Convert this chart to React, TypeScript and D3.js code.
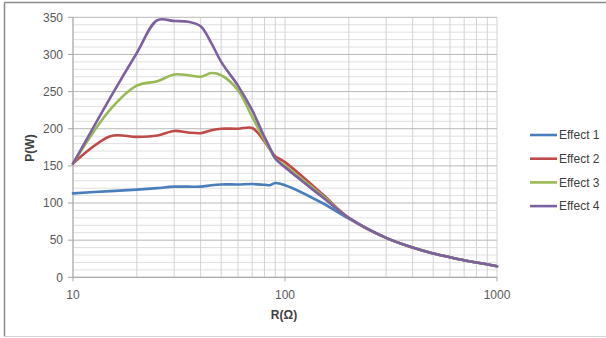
import React from "react";
import * as d3 from "d3";

const W = 606;
const H = 338;

const resistances = [10, 15, 20, 25, 30, 35, 40, 45, 50, 60, 70, 80, 85, 90, 100, 150, 200, 300, 400, 500, 600, 700, 800, 1000];
const effect1 = [113, 116, 118, 120, 122, 122, 122, 124, 125, 125, 125.5, 124.5, 124, 127, 124, 100, 79, 53, 40, 32, 27, 23, 20, 15];
const effect2 = [153, 190, 189, 191, 197, 195, 194, 198, 200, 200, 201, 183, 172, 163, 155, 112, 80, 53, 40, 32, 27, 23, 20, 15];
const effect3 = [153, 226, 258, 264, 273, 272, 270, 275, 272, 252, 216, 185, 172, 160, 150, 110, 80, 53, 40, 32, 27, 23, 20, 15];
const effect4 = [153, 242, 302, 346, 345, 344, 338, 315, 290, 258, 225, 189, 174, 160, 148, 108, 80, 53, 40, 32, 27, 23, 20, 15];

const seriesNames = ["Effect 1", "Effect 2", "Effect 3", "Effect 4"];
const seriesValues = [effect1, effect2, effect3, effect4];
const seriesColors = ["#4A7EBB", "#BE4B48", "#98B954", "#7D60A0"];

const yTicks = [0, 50, 100, 150, 200, 250, 300, 350];
const xTickLabels = [10, 100, 1000];

export default function App() {
  const x = d3.scaleLog().domain([10, 1000]).range([73, 497]);
  const y = d3.scaleLinear().domain([0, 350]).range([277.3, 17.3]);

  const minorX: number[] = [];
  for (let dec = 10; dec < 1000; dec *= 10) {
    for (let m = 1; m <= 9; m++) minorX.push(dec * m);
  }
  minorX.push(1000);
  const minorY = d3.range(0, 351, 10);

  const line = d3
    .line<number>()
    .x((_, i) => x(resistances[i]))
    .y((d) => y(d))
    .curve(d3.curveCatmullRom.alpha(0.5));

  const font = "'Liberation Sans', Arial, sans-serif";

  return (
    <svg
      width={W}
      height={H}
      style={{ position: "fixed", left: 0, top: 0, background: "#fff" }}
    >
      <rect x={0} y={0} width={W} height={H} fill="#fff" />
      {/* chart border */}
      <line x1={4.5} y1={2.5} x2={606} y2={2.5} stroke="#8a8a8a" strokeWidth={1.5} />
      <line x1={4.5} y1={2.5} x2={4.5} y2={336.5} stroke="#8a8a8a" strokeWidth={1.5} />
      <line x1={4.5} y1={336.5} x2={606} y2={336.5} stroke="#d4d4d4" strokeWidth={1} />

      {/* minor horizontal grid */}
      {minorY.filter((v) => v % 50 !== 0).map((v) => (
        <line key={"my" + v} x1={73} x2={497} y1={y(v)} y2={y(v)} stroke="#e0e0e0" strokeWidth={1} />
      ))}
      {/* vertical grid */}
      {minorX.map((v) => (
        <line key={"vx" + v} x1={x(v)} x2={x(v)} y1={y(350)} y2={y(0)} stroke="#d3d3d3" strokeWidth={1} />
      ))}
      {/* major horizontal grid */}
      {yTicks.map((v) => (
        <line key={"My" + v} x1={73} x2={497} y1={y(v)} y2={y(v)} stroke="#b8b8b8" strokeWidth={1} />
      ))}

      {/* axes */}
      <line x1={73} x2={73} y1={y(350)} y2={y(0)} stroke="#a6a6a6" strokeWidth={1} />
      <line x1={73} x2={497} y1={y(0)} y2={y(0)} stroke="#a6a6a6" strokeWidth={1} />
      {yTicks.map((v) => (
        <line key={"ty" + v} x1={68} x2={73} y1={y(v)} y2={y(v)} stroke="#a6a6a6" />
      ))}
      {xTickLabels.map((v) => (
        <line key={"tx" + v} x1={x(v)} x2={x(v)} y1={y(0)} y2={y(0) + 4} stroke="#a6a6a6" />
      ))}

      {/* y tick labels */}
      {yTicks.map((v) => (
        <text key={"ly" + v} x={63} y={y(v)} dy="0.35em" textAnchor="end" fontFamily={font} fontSize={12} fill="#595959">
          {v}
        </text>
      ))}
      {/* x tick labels */}
      {xTickLabels.map((v) => (
        <text key={"lx" + v} x={x(v)} y={295} dy="0.35em" textAnchor="middle" fontFamily={font} fontSize={12} fill="#595959">
          {v}
        </text>
      ))}

      {/* axis titles */}
      <text x={284} y={315} dy="0.35em" textAnchor="middle" fontFamily={font} fontSize={12} fontWeight="bold" fill="#404040">
        R(Ω)
      </text>
      <text
        transform={`translate(30,148) rotate(-90)`}
        dy="0.35em"
        textAnchor="middle"
        fontFamily={font}
        fontSize={12}
        fontWeight="bold"
        fill="#404040"
      >
        P(W)
      </text>

      {/* series */}
      {seriesValues.map((vals, i) => (
        <path
          key={"s" + i}
          d={line(vals) || ""}
          fill="none"
          stroke={seriesColors[i]}
          strokeWidth={2.6}
          strokeLinejoin="round"
          strokeLinecap="round"
        />
      ))}

      {/* legend */}
      {seriesNames.map((name, i) => {
        const ly = 135 + i * 23.7;
        return (
          <g key={"lg" + i}>
            <line x1={530} x2={557} y1={ly} y2={ly} stroke={seriesColors[i]} strokeWidth={2.6} />
            <text x={559} y={ly} dy="0.35em" fontFamily={font} fontSize={12} fill="#404040">
              {name}
            </text>
          </g>
        );
      })}
    </svg>
  );
}
